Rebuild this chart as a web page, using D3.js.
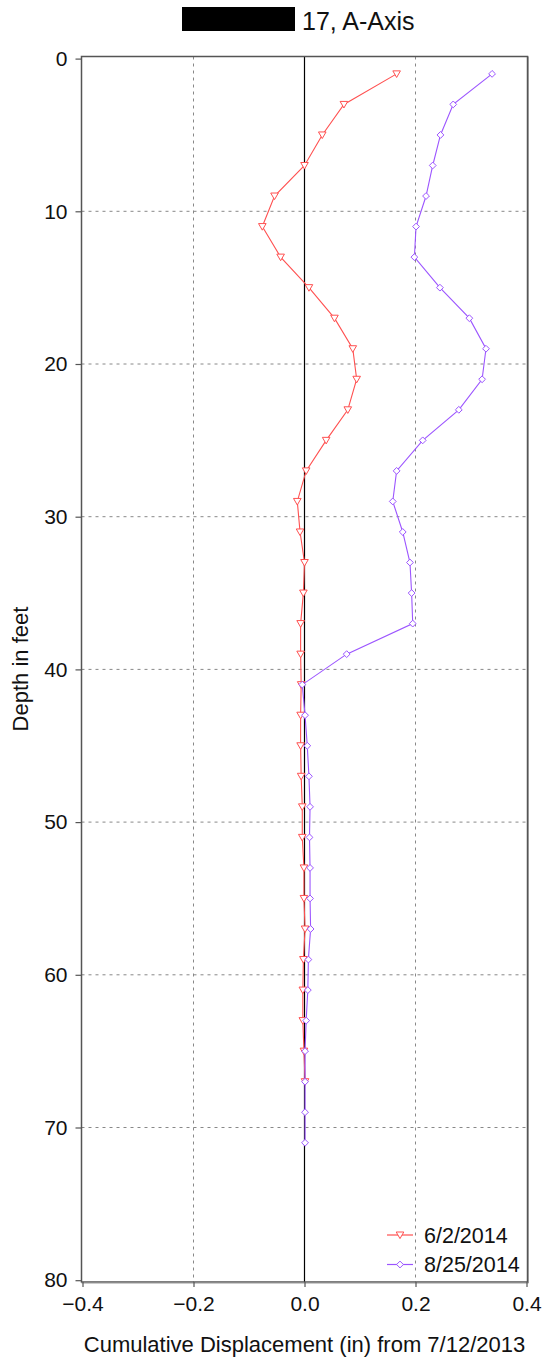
<!DOCTYPE html>
<html>
<head>
<meta charset="utf-8">
<script src="https://cdn.jsdelivr.net/npm/d3@7"></script>
<style>
  body { margin: 0; background: #fff; }
  text { font-family: "Liberation Sans", Arial, sans-serif; fill: #111; }
</style>
</head>
<body>
<div id="chart-area"></div>
<script>
// depths (ft) and displacements (in)
var depthsRed = [1, 3, 5, 7, 9, 11, 13, 15, 17, 19, 21, 23, 25, 27, 29, 31, 33, 35, 37, 39,
    41, 43, 45, 47, 49, 51, 53, 55, 57, 59, 61, 63, 65, 67];
var dispRed = [0.166, 0.071, 0.032, 0.0, -0.054, -0.076, -0.043, 0.008, 0.054, 0.087, 0.094, 0.078,
    0.039, 0.003, -0.013, -0.008, 0.0, -0.002, -0.007, -0.007, -0.006, -0.007, -0.007, -0.006,
    -0.004, -0.004, -0.001, -0.001, 0.001, -0.002, -0.003, -0.003, -0.001, 0.001];

var depthsPurple = [1, 3, 5, 7, 9, 11, 13, 15, 17, 19, 21, 23, 25, 27, 29, 31, 33, 35, 37, 39,
    41, 43, 45, 47, 49, 51, 53, 55, 57, 59, 61, 63, 65, 67, 69, 71];
var dispPurple = [0.338, 0.268, 0.245, 0.231, 0.219, 0.201, 0.198, 0.244, 0.297, 0.327, 0.320, 0.278,
    0.213, 0.166, 0.159, 0.177, 0.190, 0.193, 0.195, 0.076, -0.004, 0.001, 0.005, 0.008,
    0.010, 0.009, 0.010, 0.010, 0.011, 0.007, 0.006, 0.003, 0.001, 0.001, 0.001, 0.001];

var seriesNames = ['6/2/2014', '8/25/2014'];
var xTicks = [-0.4, -0.2, 0.0, 0.2, 0.4];
var yTicks = [0, 10, 20, 30, 40, 50, 60, 70, 80];
var gridX = [-0.2, 0.2];
var gridY = [10, 20, 30, 40, 50, 60, 70];

var W = 546, H = 1361;
var box = { left: 81.5, right: 527.5, top: 56.5, bottom: 1282 };

var svg = d3.select('#chart-area')
    .append('svg')
    .attr('width', W)
    .attr('height', H);

var x = d3.scaleLinear().domain([-0.4, 0.4]).range([82.5, 526.5]);
var y = d3.scaleLinear().domain([0, 80]).range([58.6, 1280.2]);

// grid
svg.selectAll('.gx').data(gridX).enter().append('line')
    .attr('x1', d => x(d)).attr('x2', d => x(d))
    .attr('y1', box.top).attr('y2', box.bottom)
    .attr('stroke', '#888').attr('stroke-dasharray', '3,4');
svg.selectAll('.gy').data(gridY).enter().append('line')
    .attr('y1', d => y(d)).attr('y2', d => y(d))
    .attr('x1', box.left).attr('x2', box.right)
    .attr('stroke', '#888').attr('stroke-dasharray', '3,4');

// zero line
svg.append('line')
    .attr('x1', x(0)).attr('x2', x(0))
    .attr('y1', box.top).attr('y2', box.bottom)
    .attr('stroke', '#000').attr('stroke-width', 1.2);

// box
svg.append('rect')
    .attr('x', box.left).attr('y', box.top)
    .attr('width', box.right - box.left).attr('height', box.bottom - box.top)
    .attr('fill', 'none').attr('stroke', '#555').attr('stroke-width', 1.5);
svg.append('path')
    .attr('d', `M${box.right + 1},${box.top}V${box.bottom + 1}H${box.left}`)
    .attr('fill', 'none').attr('stroke', '#999').attr('stroke-width', 1);

// axes
var xAxis = svg.append('g')
    .attr('transform', `translate(0, ${box.bottom})`)
    .call(d3.axisBottom(x).tickValues(xTicks).tickFormat(d3.format('.1f')).tickSize(5).tickPadding(6));
var yAxis = svg.append('g')
    .attr('transform', `translate(${box.left}, 0)`)
    .call(d3.axisLeft(y).tickValues(yTicks).tickSize(6).tickPadding(8));

[xAxis, yAxis].forEach(a => {
    a.select('.domain').remove();
    a.selectAll('line').attr('stroke', '#555').attr('stroke-width', 1.2);
    a.selectAll('text').attr('font-size', '21px').attr('fill', '#111')
        .attr('font-family', '"Liberation Sans", Arial, sans-serif');
});
xAxis.selectAll('text').attr('dy', '0.85em');

var triangle = 'M-3.8,-3L3.8,-3L0,3.6Z';
var diamond = 'M0,-3.4L3.4,0L0,3.4L-3.4,0Z';

var series = [
    { name: seriesNames[0], depths: depthsRed, vals: dispRed, color: '#ff5050', marker: triangle },
    { name: seriesNames[1], depths: depthsPurple, vals: dispPurple, color: '#9c55ff', marker: diamond }
];

var line = d3.line().x(d => x(d[1])).y(d => y(d[0]));

series.forEach(s => {
    var pts = s.depths.map((d, i) => [d, s.vals[i]]);
    svg.append('path')
        .datum(pts)
        .attr('d', line)
        .attr('fill', 'none')
        .attr('stroke', s.color)
        .attr('stroke-width', 1.1);
    svg.selectAll(null).data(pts).enter().append('path')
        .attr('d', s.marker)
        .attr('transform', d => `translate(${x(d[1])}, ${y(d[0])})`)
        .attr('fill', '#fff')
        .attr('stroke', s.color)
        .attr('stroke-width', 1);
});

// legend
var legend = svg.append('g');
series.forEach((s, i) => {
    var ly = 1235 + i * 29.5;
    legend.append('line')
        .attr('x1', 387).attr('x2', 413).attr('y1', ly).attr('y2', ly)
        .attr('stroke', s.color).attr('stroke-width', 1.2);
    legend.append('path')
        .attr('d', s.marker)
        .attr('transform', `translate(400, ${ly})`)
        .attr('fill', '#fff').attr('stroke', s.color);
    legend.append('text')
        .attr('x', 424).attr('y', ly + 7.7)
        .attr('font-size', '21.5px')
        .text(s.name);
});

// title (leading part redacted in the source)
svg.append('rect')
    .attr('x', 182).attr('y', 7).attr('width', 113).attr('height', 24)
    .attr('fill', '#000');
svg.append('text')
    .attr('x', 302).attr('y', 29.5)
    .attr('font-size', '25px')
    .text('17, A-Axis');

// axis labels
svg.append('text')
    .attr('x', (box.left + box.right) / 2)
    .attr('y', 1351.5)
    .attr('text-anchor', 'middle')
    .attr('font-size', '22px')
    .text('Cumulative Displacement (in) from 7/12/2013');

svg.append('text')
    .attr('transform', 'translate(28, 669) rotate(-90)')
    .attr('text-anchor', 'middle')
    .attr('font-size', '22px')
    .text('Depth in feet');
</script>
</body>
</html>
